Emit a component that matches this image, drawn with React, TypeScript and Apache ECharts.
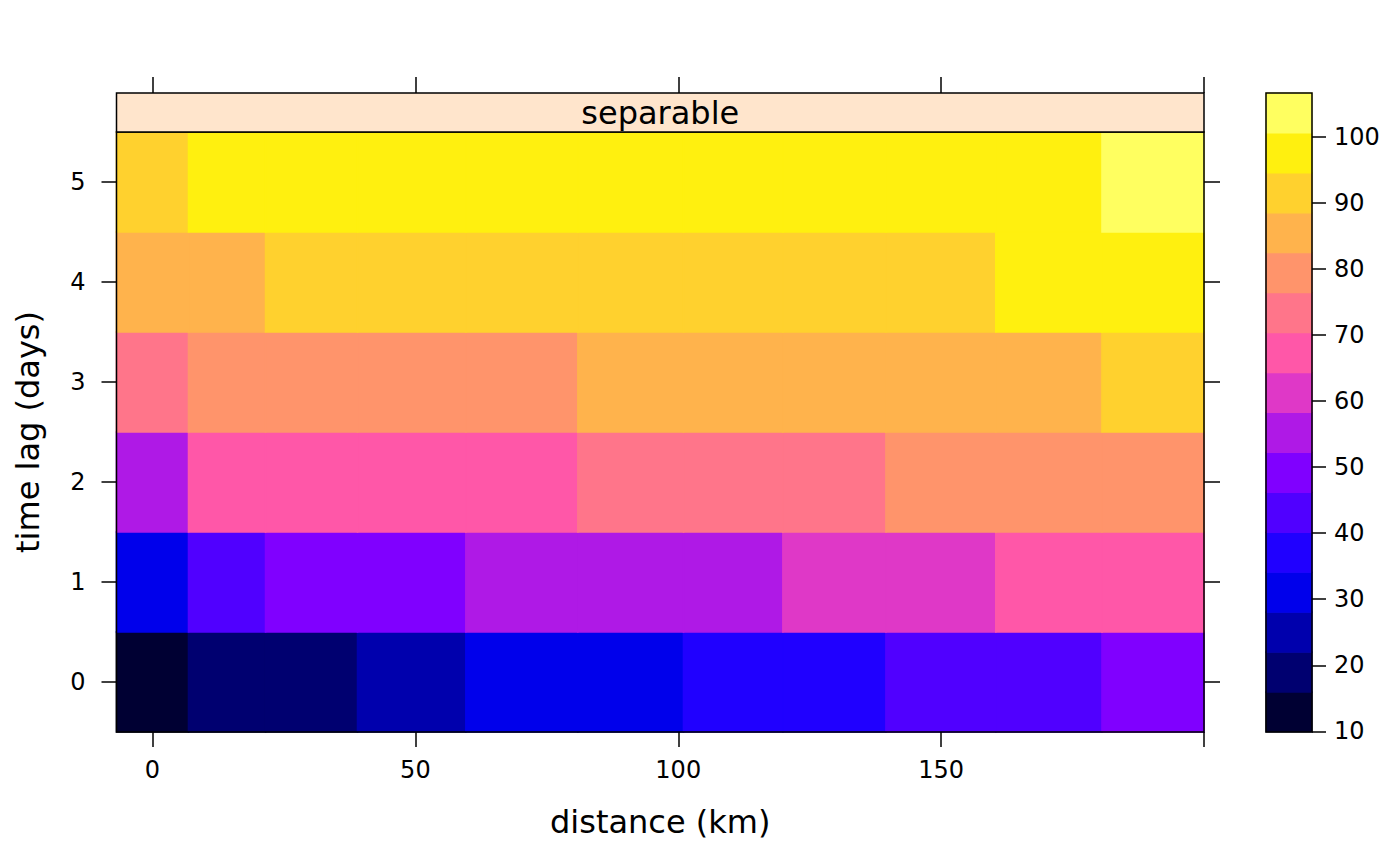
import React, { useEffect, useRef } from "react";
import * as echarts from "echarts";

// ---- data ----
const distances = [0, 13.7, 29.3, 48.7, 70.5, 91.3, 110.7, 129.1, 149.9, 170.9, 190.3];
const timeLags = [0, 1, 2, 3, 4, 5];
const gammaLag0 = [9.9, 18.0, 20.8, 25.5, 29.8, 32.6, 35.5, 38.3, 41.5, 44.5, 47.5];
const gammaLag1 = [31.0, 43.0, 48.0, 51.0, 54.0, 56.0, 57.5, 60.0, 62.5, 65.5, 68.0];
const gammaLag2 = [55.0, 65.0, 66.5, 68.0, 69.5, 71.5, 73.5, 75.5, 77.5, 79.5, 81.5];
const gammaLag3 = [73.0, 77.0, 78.5, 80.0, 81.5, 83.0, 84.5, 85.5, 86.5, 87.5, 89.5];
const gammaLag4 = [84.5, 87.5, 89.0, 90.0, 91.0, 91.8, 92.5, 93.3, 94.0, 95.5, 97.0];
const gammaLag5 = [92.0, 95.0, 95.8, 96.5, 97.2, 97.8, 98.4, 99.0, 99.5, 100.0, 106.6];
const gammaRows = [gammaLag0, gammaLag1, gammaLag2, gammaLag3, gammaLag4, gammaLag5];

const xTickValues = [0, 50, 100, 150, 200];
const xLabelValues = [0, 50, 100, 150];
const yTickValues = [0, 1, 2, 3, 4, 5];
const colorbarTickValues = [10, 20, 30, 40, 50, 60, 70, 80, 90, 100];
const panelTitle = "separable";
const xTitle = "distance (km)";
const yTitle = "time lag (days)";
const nBands = 16;

// bpy.colors palette (sp package)
function bpyColors(n: number, cutoff = 0.1): string[] {
  const out: string[] = [];
  for (let k = 0; k < n; k++) {
    const i = 0.5 * cutoff + (k * (1 - cutoff)) / (n - 1);
    const r = i < 0.25 ? 0 : i < 0.57 ? i / 0.32 - 0.78125 : 1;
    const g = i < 0.42 ? 0 : i < 0.92 ? 2 * i - 0.84 : 1;
    const b = i < 0.25 ? 4 * i : i < 0.42 ? 1 : i < 0.92 ? -2 * i + 1.84 : i / 0.08 - 11.5;
    const h = (v: number) =>
      Math.round(Math.max(0, Math.min(1, v)) * 255).toString(16).padStart(2, "0");
    out.push("#" + h(r) + h(g) + h(b));
  }
  return out;
}

const FONT = "DejaVu Sans";

export default function App() {
  const ref = useRef<HTMLDivElement>(null);

  useEffect(() => {
    if (!ref.current) return;
    const chart = echarts.init(ref.current, undefined, { renderer: "svg" });

    // cell bounds (midpoints between distances, like lattice levelplot)
    const bounds: number[] = [];
    bounds.push(distances[0] - (distances[1] - distances[0]) / 2);
    for (let i = 0; i < distances.length - 1; i++) bounds.push((distances[i] + distances[i + 1]) / 2);
    const nd = distances.length;
    bounds.push(distances[nd - 1] + (distances[nd - 1] - distances[nd - 2]) / 2);

    const cells: number[][] = [];
    timeLags.forEach((lag, r) => {
      gammaRows[r].forEach((v, c) => {
        cells.push([v, bounds[c], bounds[c + 1], lag]);
      });
    });

    const all = gammaRows.flat();
    const zmin = Math.min(...all);
    const zmax = Math.max(...all);
    const step = (zmax - zmin) / nBands;
    const at = Array.from({ length: nBands + 1 }, (_, k) => zmin + k * step);
    const palette = bpyColors(nBands);
    const pieces = palette.map((color, k) =>
      k === nBands - 1
        ? { gte: at[k], lte: at[k + 1] + 1e-9, color }
        : { gte: at[k], lt: at[k + 1], color }
    );
    const bands = palette.map((_, k) => [(at[k] + at[k + 1]) / 2, at[k], at[k + 1]]);

    const axisLineStyle = { color: "#000", width: 1.5 };
    const tickLabel = { fontFamily: FONT, fontSize: 24, color: "#000" };
    const hiddenLine = { show: false, onZero: false };

    chart.setOption({
      animation: false,
      backgroundColor: "#fff",
      grid: [
        {
          left: 116.5, top: 132, width: 1087.5, height: 600,
          show: true, borderColor: "#000", borderWidth: 1.5, backgroundColor: "transparent", z: 10,
        },
        {
          left: 1266, top: 93, width: 46, height: 639,
          show: true, borderColor: "#000", borderWidth: 1.5, backgroundColor: "transparent", z: 10,
        },
      ],
      xAxis: [
        {
          type: "value", gridIndex: 0, min: bounds[0], max: bounds[bounds.length - 1],
          position: "bottom", z: 10,
          axisLine: hiddenLine,
          splitLine: { show: false },
          axisTick: { show: true, inside: false, length: 15, customValues: xTickValues, lineStyle: axisLineStyle },
          axisLabel: { show: true, margin: 26, customValues: xLabelValues, ...tickLabel },
          name: xTitle, nameLocation: "middle", nameGap: 74,
          nameTextStyle: { fontFamily: FONT, fontSize: 32, color: "#000" },
        },
        {
          type: "value", gridIndex: 0, min: bounds[0], max: bounds[bounds.length - 1],
          position: "top", offset: 39, z: 10,
          axisLine: hiddenLine,
          splitLine: { show: false },
          axisTick: { show: true, inside: false, length: 16, customValues: xTickValues, lineStyle: axisLineStyle },
          axisLabel: { show: false },
        },
        {
          type: "value", gridIndex: 1, min: 0, max: 1, show: false,
          axisLine: hiddenLine,
        },
      ],
      yAxis: [
        {
          type: "value", gridIndex: 0, min: -0.5, max: 5.5, position: "left", z: 10,
          axisLine: hiddenLine,
          splitLine: { show: false },
          axisTick: { show: true, inside: false, length: 15, customValues: yTickValues, lineStyle: axisLineStyle },
          axisLabel: { show: true, margin: 31, customValues: yTickValues, ...tickLabel },
          name: yTitle, nameLocation: "middle", nameGap: 73, nameRotate: 90,
          nameTextStyle: { fontFamily: FONT, fontSize: 32, color: "#000" },
        },
        {
          type: "value", gridIndex: 0, min: -0.5, max: 5.5, position: "right", z: 10,
          axisLine: hiddenLine,
          splitLine: { show: false },
          axisTick: { show: true, inside: false, length: 16, customValues: yTickValues, lineStyle: axisLineStyle },
          axisLabel: { show: false },
        },
        {
          type: "value", gridIndex: 1, min: zmin, max: zmax, position: "right", z: 10,
          axisLine: hiddenLine,
          splitLine: { show: false },
          axisTick: { show: true, inside: false, length: 14, customValues: colorbarTickValues, lineStyle: axisLineStyle },
          axisLabel: { show: true, margin: 22, customValues: colorbarTickValues, ...tickLabel },
        },
      ],
      visualMap: {
        type: "piecewise", show: false, dimension: 0, seriesIndex: [0, 1], pieces,
      },
      graphic: [
        {
          type: "rect", z: 20,
          shape: { x: 116.5, y: 93, width: 1087.5, height: 39 },
          style: { fill: "#FFE5CC", stroke: "#000", lineWidth: 1.5 },
        },
        {
          type: "text", z: 21, x: 660.25, y: 113,
          style: {
            text: panelTitle, fontFamily: FONT, fontSize: 32, fill: "#000",
            align: "center", verticalAlign: "middle",
          },
        },
      ],
      series: [
        {
          type: "custom", xAxisIndex: 0, yAxisIndex: 0, data: cells,
          encode: { x: [1, 2], y: 3 },
          renderItem: (params: any, api: any) => {
            const x0 = api.value(1), x1 = api.value(2), y = api.value(3);
            const p0 = api.coord([x0, y + 0.5]);
            const p1 = api.coord([x1, y - 0.5]);
            const color = api.visual("color");
            return {
              type: "rect",
              shape: { x: p0[0], y: p0[1], width: p1[0] - p0[0], height: p1[1] - p0[1] },
              style: { fill: color, stroke: color, lineWidth: 1.6 },
            };
          },
        },
        {
          type: "custom", xAxisIndex: 2, yAxisIndex: 2, data: bands,
          encode: { y: [1, 2] },
          renderItem: (params: any, api: any) => {
            const lo = api.value(1), hi = api.value(2);
            const p0 = api.coord([0, hi]);
            const p1 = api.coord([1, lo]);
            const color = api.visual("color");
            return {
              type: "rect",
              shape: { x: p0[0], y: p0[1], width: p1[0] - p0[0], height: p1[1] - p0[1] },
              style: { fill: color, stroke: color, lineWidth: 1.2 },
            };
          },
        },
      ],
    });

    return () => chart.dispose();
  }, []);

  return (
    <div
      ref={ref}
      style={{ position: "absolute", left: 0, top: 0, width: 1400, height: 866 }}
    />
  );
}
